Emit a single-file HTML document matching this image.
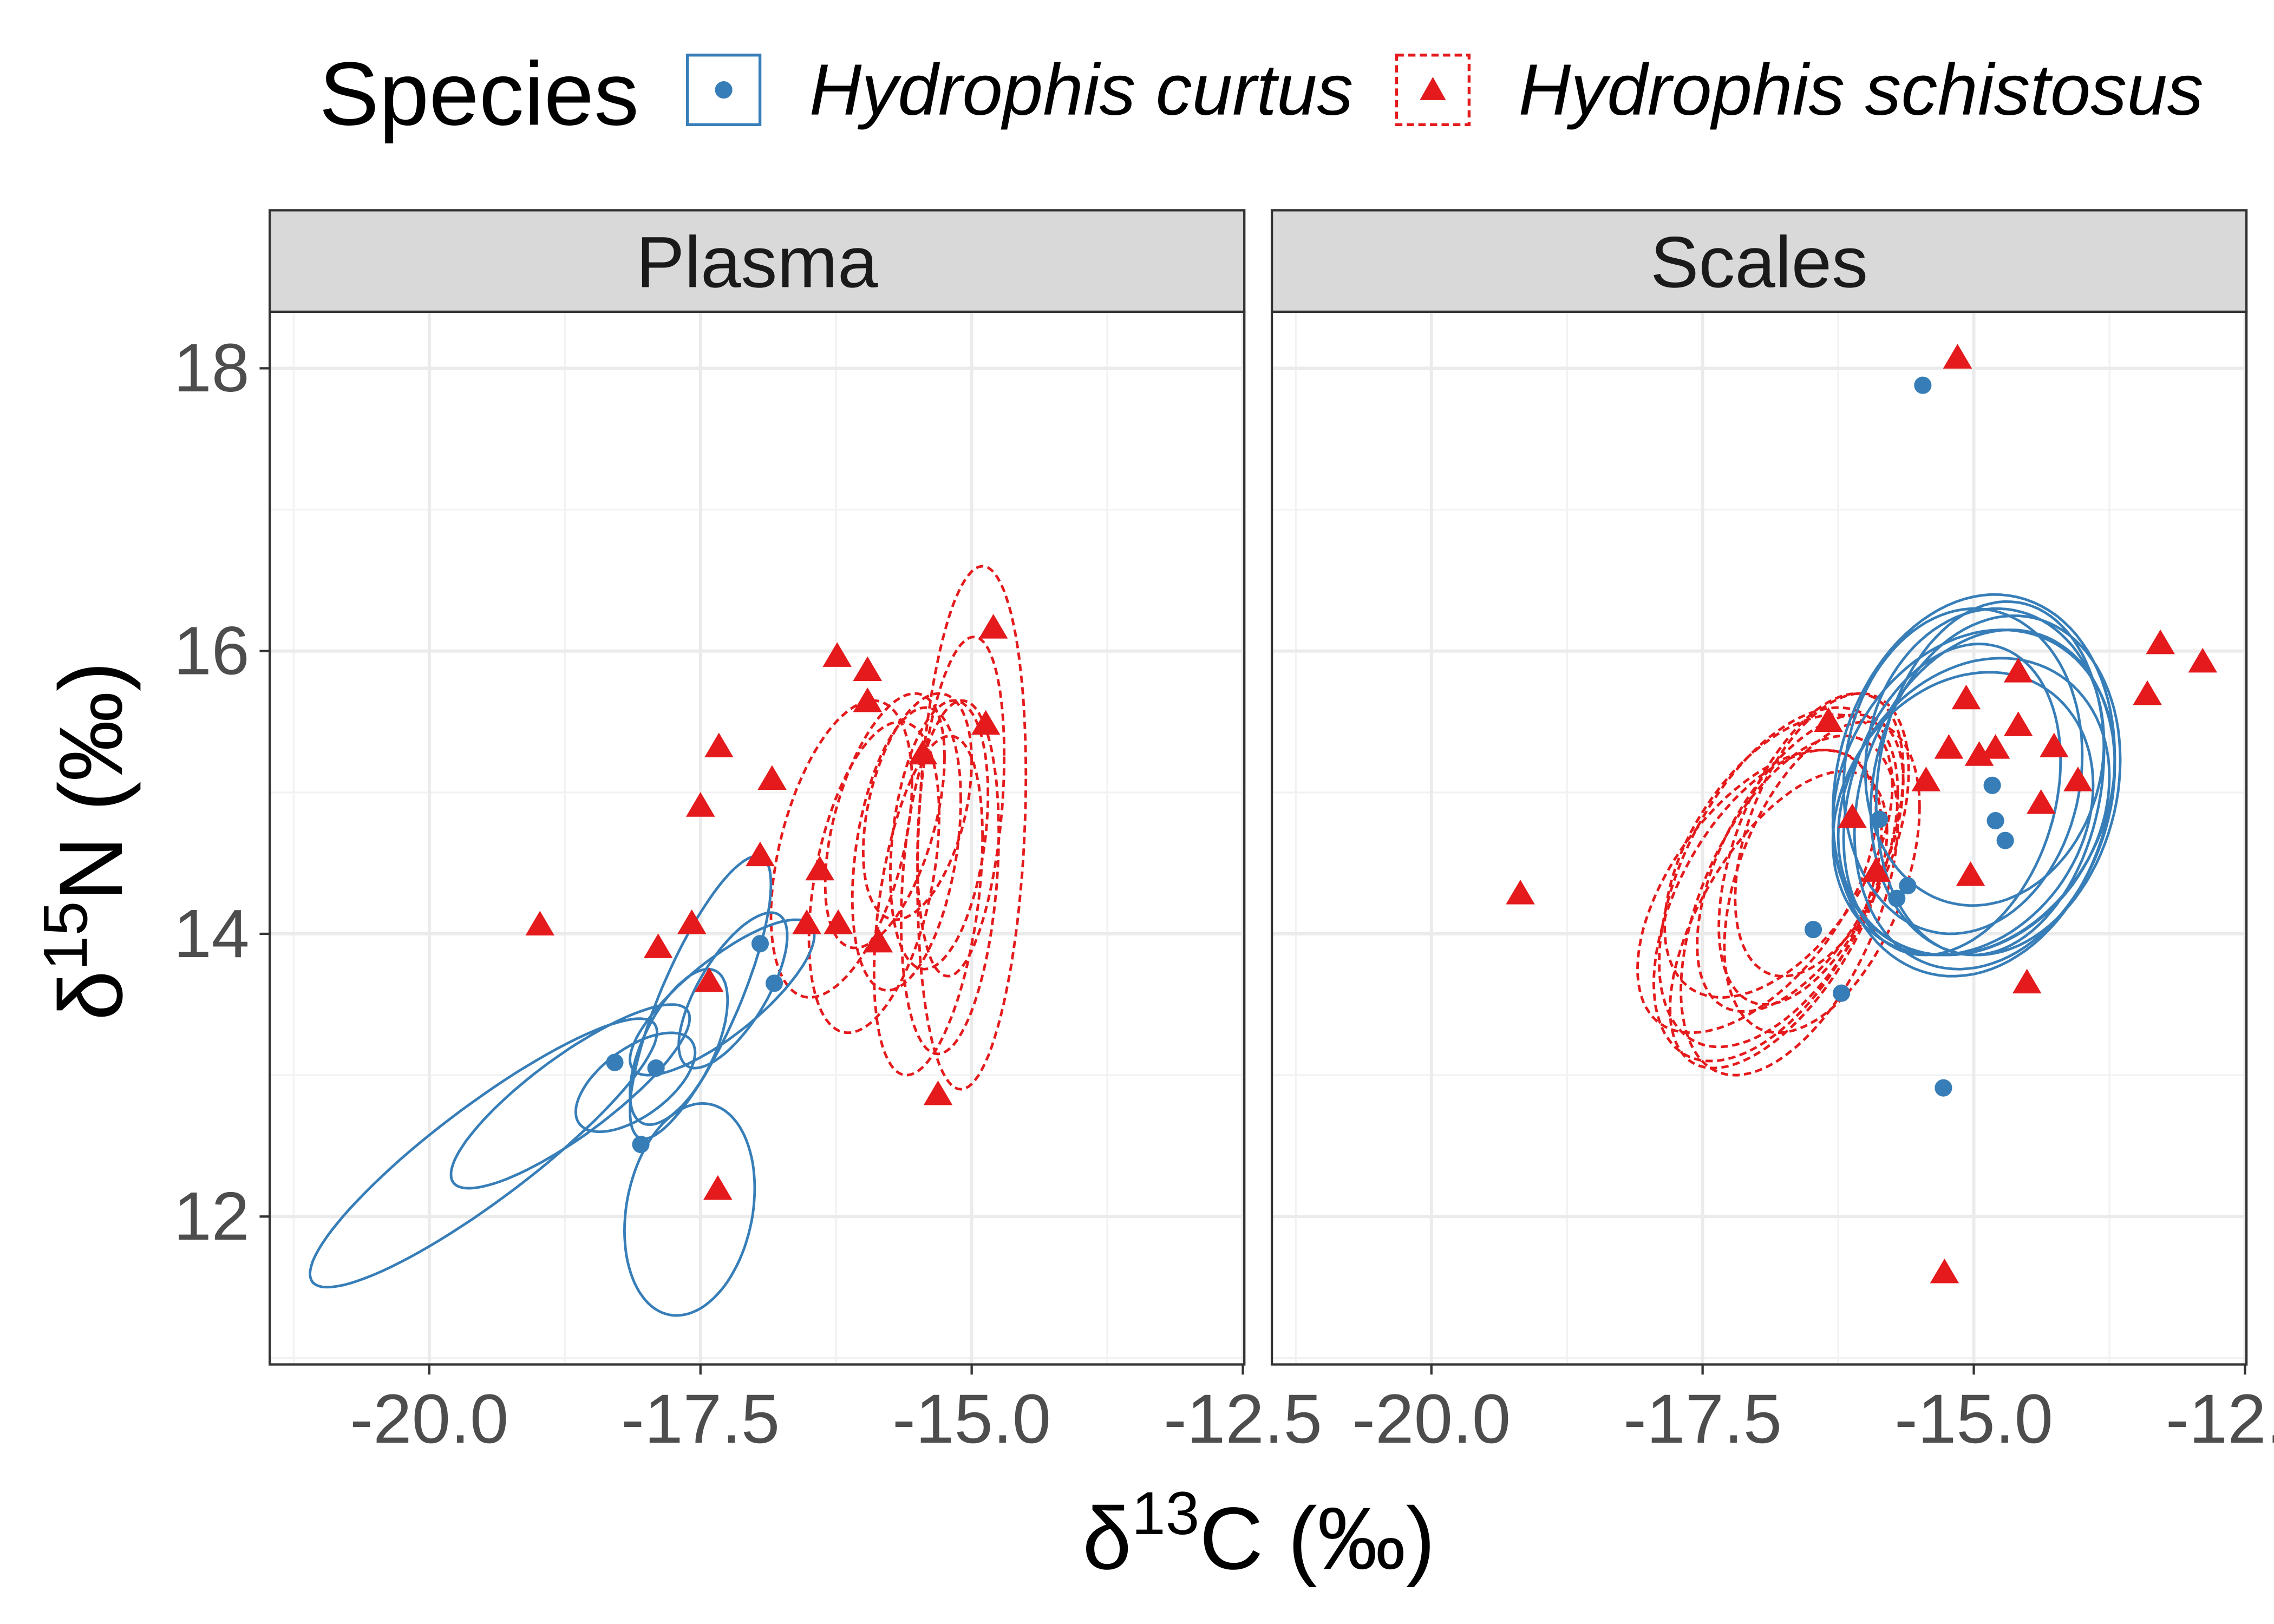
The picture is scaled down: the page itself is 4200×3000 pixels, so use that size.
<!DOCTYPE html>
<html><head><meta charset="utf-8">
<style>html,body{margin:0;padding:0;background:#fff}svg{display:block}</style>
</head><body>
<svg id="chart" width="4200" height="3000" viewBox="0 0 1568 1120" xmlns="http://www.w3.org/2000/svg" font-family="Liberation Sans, sans-serif">
<rect width="1568" height="1120" fill="#fff"/>
<g>
  <text x="220" y="86" font-size="62" fill="#000">Species</text>
  <g>
    <rect x="474" y="38" width="50" height="48" fill="#fff" stroke="#377eb8" stroke-width="2"/>
    <circle cx="499" cy="62" r="6" fill="#377eb8"/>
    <text x="558" y="79" font-size="50" font-style="italic">Hydrophis curtus</text>
  </g>
  <g>
    <rect x="963" y="38" width="50" height="48" fill="#fff" stroke="#e41a1c" stroke-width="2" stroke-dasharray="5,3"/>
    <polygon points="988,53 997,69 979,69" fill="#e41a1c"/>
    <text x="1047" y="79" font-size="50" font-style="italic">Hydrophis schistosus</text>
  </g>
</g>
<g id="panels"></g>
<text transform="translate(84,580) rotate(-90)" text-anchor="middle" font-size="62" fill="#000">δ<tspan dy="-24" font-size="43">15</tspan><tspan dy="24">N (‰)</tspan></text>
<text x="868" y="1082" text-anchor="middle" font-size="61" fill="#000">δ<tspan dy="-24" font-size="42">13</tspan><tspan dy="24">C (‰)</tspan></text>
</svg>
<script>
// ---- data ----
const xTicks = [-20, -17.5, -15, -12.5];
const xTickLabels = ["-20.0", "-17.5", "-15.0", "-12.5"];
const yTicks = [12, 14, 16, 18];
const yTickLabels = ["12", "14", "16", "18"];
const panelNames = ["Plasma", "Scales"];

const plasmaCurtusX = [-18.29, -17.91, -18.05, -16.95, -16.82];
const plasmaCurtusY = [13.09, 13.05, 12.51, 13.93, 13.65];
const plasmaSchistX = [-18.98,-17.89,-17.58,-17.50,-17.33,-17.42,-16.95,-16.84,-17.34,-16.40,-16.52,-16.23,-16.24,-15.96,-15.96,-15.86,-15.45,-15.31,-14.87,-14.80];
const plasmaSchistY = [14.06,13.90,14.07,14.90,15.32,13.66,14.55,15.09,12.19,14.45,14.07,14.07,15.96,15.86,15.64,13.94,15.27,12.86,15.48,16.16];
const scalesCurtusX = [-15.47,-14.83,-14.80,-14.71,-16.48,-16.22,-15.28,-15.71,-15.61,-15.87];
const scalesCurtusY = [17.88,15.05,14.80,14.66,14.03,13.58,12.91,14.25,14.34,14.81];
const scalesSchistX = [-15.15,-19.18,-15.27,-13.28,-12.89,-13.40,-14.59,-14.59,-15.07,-15.23,-14.95,-14.80,-15.03,-15.44,-14.26,-14.38,-14.04,-14.51,-16.34,-16.12,-15.90];
const scalesSchistY = [18.07,14.28,11.60,16.05,15.92,15.69,15.85,15.47,15.66,15.31,15.26,15.31,14.41,15.08,15.32,14.92,15.08,13.65,15.50,14.82,14.44];

// ellipses: [cx, cy, sx, sy, rho]
const plasmaCurtusEll = [[-19.5,12.45,1.6,0.95,0.9],[-18.7,12.85,1.1,0.65,0.85],[-17.6,12.05,0.6,0.75,0.2],[-18.1,12.95,0.55,0.35,0.6],[-17.5,13.55,0.65,1.0,0.8],[-17.3,13.55,0.85,0.55,0.8],[-17.2,13.6,0.5,0.55,0.7],[-17.7,13.2,0.45,0.55,0.6]];
const plasmaSchistEll = [[-15.0,14.75,0.5,1.85,0.2],[-15.9,14.4,0.6,1.1,0.4],[-15.6,14.6,0.5,1.0,0.35],[-15.3,14.7,0.45,0.95,0.3],[-15.4,14.2,0.5,1.2,0.4],[-15.1,14.9,0.4,1.2,0.3],[-15.8,14.8,0.55,0.9,0.5],[-15.2,14.4,0.45,1.25,0.25],[-15.5,14.9,0.5,0.8,0.4],[-16.2,14.6,0.65,1.05,0.45]];
const scalesCurtusEll = [[-15.0,15.05,1.3,1.35,0.15],[-14.9,14.95,1.2,1.2,0.2],[-15.1,15.15,1.1,1.15,0.1],[-15.0,14.9,1.25,1.05,0.2],[-14.8,15.05,1.15,1.2,0.15],[-15.2,14.95,1.0,1.1,0.25],[-14.9,15.25,1.1,1.05,0.1],[-15.1,14.85,1.2,1.0,0.2],[-14.85,15.1,1.05,1.25,0.15],[-15.0,15.0,1.3,1.15,0.2]];
const scalesSchistEll = [[-16.8,14.4,1.1,1.2,0.5],[-16.6,14.5,0.95,1.05,0.55],[-16.9,14.2,1.05,1.1,0.5],[-16.5,14.6,0.85,1.1,0.5],[-16.8,14.1,1.0,1.05,0.6],[-16.4,14.4,0.9,1.1,0.45],[-17.0,14.3,1.1,1.0,0.55],[-16.7,14.2,1.0,1.2,0.5],[-16.4,14.7,0.8,1.0,0.45],[-16.8,14.55,1.05,1.0,0.5]];

// ---- layout ----
const NS = "http://www.w3.org/2000/svg";
const panels = [{x0:186,x1:858},{x0:877,x1:1549}];
const pTop = 215, pBottom = 941, stripTop = 145;
const xs = (p, v) => panels[p].x0 + 110 + (v + 20) * 74.8;
const ys = v => 449 - (v - 16) * 97.5;
function mk(tag, attrs, parent){const e=document.createElementNS(NS,tag);for(const k in attrs)e.setAttribute(k,attrs[k]);parent.appendChild(e);return e;}
const root = document.getElementById('panels');
const datasets = [
  {cx:plasmaCurtusX, cy:plasmaCurtusY, sx:plasmaSchistX, sy:plasmaSchistY, ec:plasmaCurtusEll, es:plasmaSchistEll},
  {cx:scalesCurtusX, cy:scalesCurtusY, sx:scalesSchistX, sy:scalesSchistY, ec:scalesCurtusEll, es:scalesSchistEll}
];
function ellPath(p, e){
  const [cx,cy,sx,sy,r]=e; const q=Math.sqrt(1-r*r); let d="";
  for(let i=0;i<=100;i++){const t=i/100*2*Math.PI;const x=cx+sx*Math.cos(t);const y=cy+sy*(r*Math.cos(t)+q*Math.sin(t));d+=(i?"L":"M")+xs(p,x).toFixed(1)+","+ys(y).toFixed(1);}
  return d+"Z";
}
panels.forEach((P, p) => {
  const g = mk('g', {}, root);
  
  
  const cp = mk('clipPath', {id:'clip'+p}, g);
  mk('rect', {x:P.x0, y:pTop, width:P.x1-P.x0, height:pBottom-pTop}, cp);
  mk('rect', {x:P.x0, y:pTop, width:P.x1-P.x0, height:pBottom-pTop, fill:'#fff'}, g);
  const grid = mk('g', {'clip-path':'url(#clip'+p+')'}, g);
  
  
  for (let i=0;i<xTicks.length;i++){ const v=xTicks[i]-1.25; mk('line',{x1:xs(p,v),x2:xs(p,v),y1:pTop,y2:pBottom,stroke:'#f2f2f2','stroke-width':1.2},grid); }
  mk('line',{x1:xs(p,-11.25),x2:xs(p,-11.25),y1:pTop,y2:pBottom,stroke:'#f2f2f2','stroke-width':1.2},grid);
  for (let i=0;i<yTicks.length;i++){ const v=yTicks[i]-1; mk('line',{x1:P.x0,x2:P.x1,y1:ys(v),y2:ys(v),stroke:'#f2f2f2','stroke-width':1.2},grid); }
  mk('line',{x1:P.x0,x2:P.x1,y1:ys(19),y2:ys(19),stroke:'#f2f2f2','stroke-width':1.2},grid);
  xTicks.forEach(v => mk('line',{x1:xs(p,v),x2:xs(p,v),y1:pTop,y2:pBottom,stroke:'#ebebeb','stroke-width':2.2},grid));
  yTicks.forEach(v => mk('line',{x1:P.x0,x2:P.x1,y1:ys(v),y2:ys(v),stroke:'#ebebeb','stroke-width':2.2},grid));
  const D = datasets[p];
  const marks = mk('g', {'clip-path':'url(#clip'+p+')'}, g);
  D.es.forEach(e => { const el = mk('path',{d:ellPath(p,e),fill:'none',stroke:'#e41a1c','stroke-width':1.8,'stroke-dasharray':'5,3'},marks);
      });
  D.ec.forEach(e => { const el = mk('path',{d:ellPath(p,e),fill:'none',stroke:'#377eb8','stroke-width':1.8},marks);
      });
  D.cx.forEach((v,i) => { const el = mk('circle',{cx:xs(p,v),cy:ys(D.cy[i]),r:6,fill:'#377eb8'},marks);
      });
  D.sx.forEach((v,i) => { const x=xs(p,v), y=ys(D.sy[i]);
    const el = mk('polygon',{points:`${x},${y-10} ${x+10},${y+7} ${x-10},${y+7}`,fill:'#e41a1c'},marks);
      });
  mk('rect', {x:P.x0, y:pTop, width:P.x1-P.x0, height:pBottom-pTop, fill:'none', stroke:'#333', 'stroke-width':1.6}, g);
  const strip = mk('g', {}, g);
  
  
  mk('rect', {x:P.x0, y:stripTop, width:P.x1-P.x0, height:pTop-stripTop, fill:'#d9d9d9', stroke:'#333', 'stroke-width':1.6}, strip);
  const st = mk('text', {x:(P.x0+P.x1)/2, y:198, 'text-anchor':'middle', 'font-size':50, fill:'#1a1a1a'}, strip);
  st.textContent = panelNames[p];
  xTicks.forEach((v,i) => {
    mk('line',{x1:xs(p,v),x2:xs(p,v),y1:pBottom,y2:pBottom+7,stroke:'#333','stroke-width':1.6},g);
    const t = mk('text',{x:xs(p,v),y:995,'text-anchor':'middle','font-size':48,fill:'#4d4d4d'},g);
     
    t.textContent = xTickLabels[i];
  });
  if (p === 0) {
    yTicks.forEach((v,i) => {
      mk('line',{x1:P.x0-7,x2:P.x0,y1:ys(v),y2:ys(v),stroke:'#333','stroke-width':1.6},g);
      const t = mk('text',{x:P.x0-14,y:ys(v)+16,'text-anchor':'end','font-size':47,fill:'#4d4d4d'},g);
       
      t.textContent = yTickLabels[i];
    });
  }
});
</script>
</body></html>
